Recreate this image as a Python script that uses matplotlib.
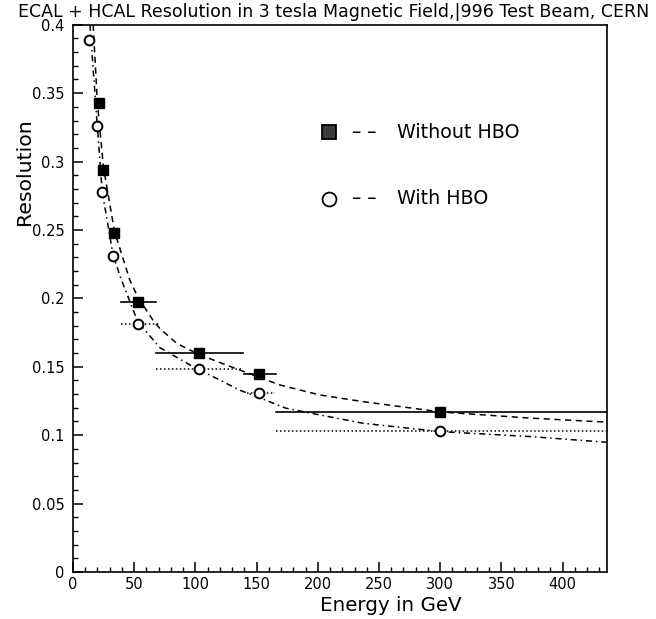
import matplotlib
matplotlib.use("Agg")
import matplotlib.pyplot as plt
from matplotlib.ticker import MultipleLocator, FuncFormatter

# measured points (energy in GeV, resolution)
e_without = [21, 25, 34, 53, 103, 152, 300]
res_without = [0.343, 0.294, 0.248, 0.197, 0.160, 0.145, 0.117]
bin_lo_without = [None, None, None, 39, 68, 140, 166]
bin_hi_without = [None, None, None, 68, 139, 166, 440]

e_with = [13, 20, 24, 33, 53, 103, 152, 300]
res_with = [0.389, 0.326, 0.278, 0.231, 0.181, 0.148, 0.131, 0.103]
bin_lo_with = [None, None, None, None, 39, 68, 142, 166]
bin_hi_with = [None, None, None, None, 70, 139, 165, 440]

# fitted curves
fit_e_without = [16.6, 20, 25, 34, 46.5, 53, 65.5, 71, 85, 103, 125, 152, 169, 201.6, 237, 300, 373, 436]
fit_res_without = [0.400, 0.344, 0.296, 0.249, 0.2135, 0.201, 0.184, 0.178, 0.167, 0.159, 0.1514,
                   0.1424, 0.1367, 0.1294, 0.1245, 0.117, 0.1125, 0.1095]
fit_e_with = [14, 20, 24, 33, 39.7, 53, 71, 95.5, 103, 136, 152, 174, 201.6, 237, 300, 373, 436]
fit_res_with = [0.400, 0.326, 0.278, 0.231, 0.2135, 0.183, 0.164, 0.1514, 0.148, 0.133, 0.1275,
                0.1197, 0.1148, 0.1087, 0.1026, 0.099, 0.0948]

x_max = 436

fig = plt.figure(figsize=(6.56, 6.19), dpi=100)
ax = fig.add_axes([0.111, 0.076, 0.814, 0.884])

# fit curves
ax.plot(fit_e_without, fit_res_without, color="black", lw=1.1, dashes=(4, 3))
ax.plot(fit_e_with, fit_res_with, color="black", lw=1.1, dashes=(4, 2.5, 1, 2.5))

# bin widths
for e, y, lo, hi in zip(e_without, res_without, bin_lo_without, bin_hi_without):
    if lo is not None:
        ax.plot([lo, hi], [y, y], color="black", lw=1.2)
for e, y, lo, hi in zip(e_with, res_with, bin_lo_with, bin_hi_with):
    if lo is not None:
        ax.plot([lo, hi], [y, y], color="black", lw=1.1, dashes=(1, 1.6))

ax.plot(e_without, res_without, ls="none", marker="s", ms=7, mfc="black", mec="black")
ax.plot(e_with, res_with, ls="none", marker="o", ms=7, mfc="white", mec="black", mew=1.4)

# legend drawn by hand like the original
ax.plot([0.479], [0.804], transform=ax.transAxes, marker="s", ms=9.5, mfc="#3a3a3a", mec="black",
        mew=1.3, ls="none", clip_on=False)
ax.text(0.522, 0.804, "– –", transform=ax.transAxes, fontsize=13.5, va="center")
ax.text(0.607, 0.804, "Without HBO", transform=ax.transAxes, fontsize=13.7, va="center")
ax.plot([0.479], [0.682], transform=ax.transAxes, marker="o", ms=10, mfc="white", mec="black",
        mew=1.3, ls="none", clip_on=False)
ax.text(0.522, 0.682, "– –", transform=ax.transAxes, fontsize=13.5, va="center")
ax.text(0.607, 0.682, "With HBO", transform=ax.transAxes, fontsize=13.7, va="center")

ax.set_xlim(0, x_max)
ax.set_ylim(0, 0.4)
ax.xaxis.set_major_locator(MultipleLocator(50))
ax.xaxis.set_minor_locator(MultipleLocator(10))
ax.yaxis.set_major_locator(MultipleLocator(0.05))
ax.yaxis.set_minor_locator(MultipleLocator(0.01))
ax.yaxis.set_major_formatter(FuncFormatter(lambda v, p: "%g" % round(v, 3)))
ax.tick_params(which="both", direction="in", top=False, right=False, labelsize=10.5)
ax.tick_params(which="major", length=7, width=1.1)
ax.tick_params(which="minor", length=3.5, width=1.0)
ax.tick_params(axis="y", pad=6)
for s in ax.spines.values():
    s.set_linewidth(1.2)

ax.set_xlabel("Energy in GeV", fontsize=14.3)
ax.xaxis.set_label_coords(0.595, -0.044)
ax.set_ylabel("Resolution", fontsize=14.7)
ax.yaxis.set_label_coords(-0.073, 0.731)

fig.text(0.027, 0.995, "ECAL + HCAL Resolution in 3 tesla Magnetic Field,|996 Test Beam, CERN",
         fontsize=12.5, va="top", ha="left")

fig.savefig("out.png", dpi=100)
